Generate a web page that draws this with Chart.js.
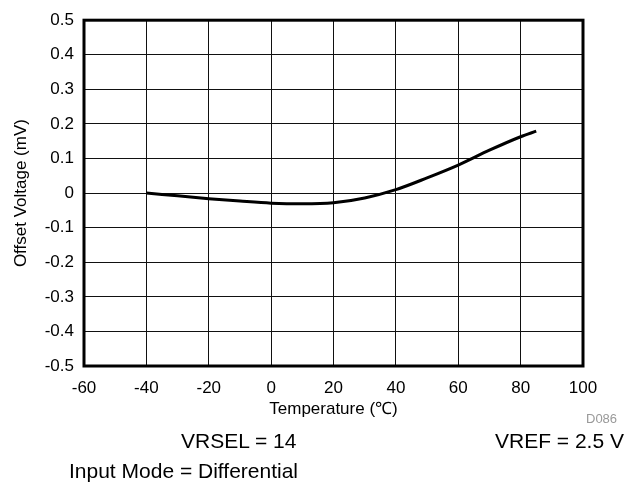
<!DOCTYPE html>
<html><head><meta charset="utf-8">
<script src="https://cdn.jsdelivr.net/npm/chart.js@4/dist/chart.umd.min.js"></script>
<style>
html,body{margin:0;padding:0;background:#fff;}
#wrap{position:relative;width:636px;height:486px;overflow:hidden;font-family:"Liberation Sans",Arial,sans-serif;}
canvas{position:absolute;left:0;top:0;}
.note{position:absolute;white-space:nowrap;color:#000;line-height:1;}
</style></head>
<body><div id="wrap">
<canvas id="c" width="636" height="486"></canvas>
<div class="note" style="left:586px;top:412px;font-size:13px;color:#999;">D086</div>
<div class="note" style="left:181px;top:430px;font-size:21px;">VRSEL = 14</div>
<div class="note" style="left:495px;top:430px;font-size:21px;">VREF = 2.5 V</div>
<div class="note" style="left:69px;top:460px;font-size:21px;">Input Mode = Differential</div>
</div>
<script>
const temps = [-40,-30,-20,-10,0,10,20,30,40,50,60,70,80,85];
const offsets = [0.000,-0.008,-0.016,-0.023,-0.029,-0.031,-0.028,-0.014,0.010,0.044,0.081,0.124,0.163,0.179];
const xTicks = [-60,-40,-20,0,20,40,60,80,100];
const yTicks = [-0.5,-0.4,-0.3,-0.2,-0.1,0,0.1,0.2,0.3,0.4,0.5];

const frame = {
  id:'frame',
  afterDraw(ch){
    const a = ch.chartArea, c = ch.ctx;
    c.save(); c.strokeStyle='#000'; c.lineWidth=3;
    c.strokeRect(a.left,a.top,a.right-a.left,a.bottom-a.top);
    c.restore();
  }
};
const font = {family:'"Liberation Sans", Arial, sans-serif', size:17};
new Chart(document.getElementById('c'),{
  type:'line',
  data:{datasets:[{data:temps.map((t,i)=>({x:t,y:offsets[i]})),borderColor:'#000',borderWidth:3,pointRadius:0,cubicInterpolationMode:'monotone',fill:false}]},
  options:{
    responsive:false,animation:false,
    layout:{padding:{left:11,top:13,right:53,bottom:66}},
    plugins:{legend:{display:false},tooltip:{enabled:false}},
    scales:{
      x:{type:'linear',min:-60,max:100,
        afterBuildTicks(s){s.ticks=xTicks.map(v=>({value:v}));},
        afterFit(s){s.height=54;},
        grid:{color:'#111',lineWidth:1,drawTicks:false},
        border:{display:false},
        ticks:{color:'#000',font,padding:12,maxRotation:0,callback:v=>String(v)},
        title:{display:true,text:'Temperature (℃)',color:'#000',font,padding:{top:0,bottom:0}}},
      y:{type:'linear',min:-0.5,max:0.5,
        afterBuildTicks(s){s.ticks=yTicks.map(v=>({value:v}));},
        afterFit(s){s.width=73;},
        grid:{color:'#111',lineWidth:1,drawTicks:false},
        border:{display:false},
        ticks:{color:'#000',font,padding:10,callback:v=>Math.abs(v)<1e-9?'0':v.toFixed(1)},
        title:{display:true,text:'Offset Voltage (mV)',color:'#000',font,padding:{top:0,bottom:0}}}
    }
  },
  plugins:[frame]
});
</script></body></html>
